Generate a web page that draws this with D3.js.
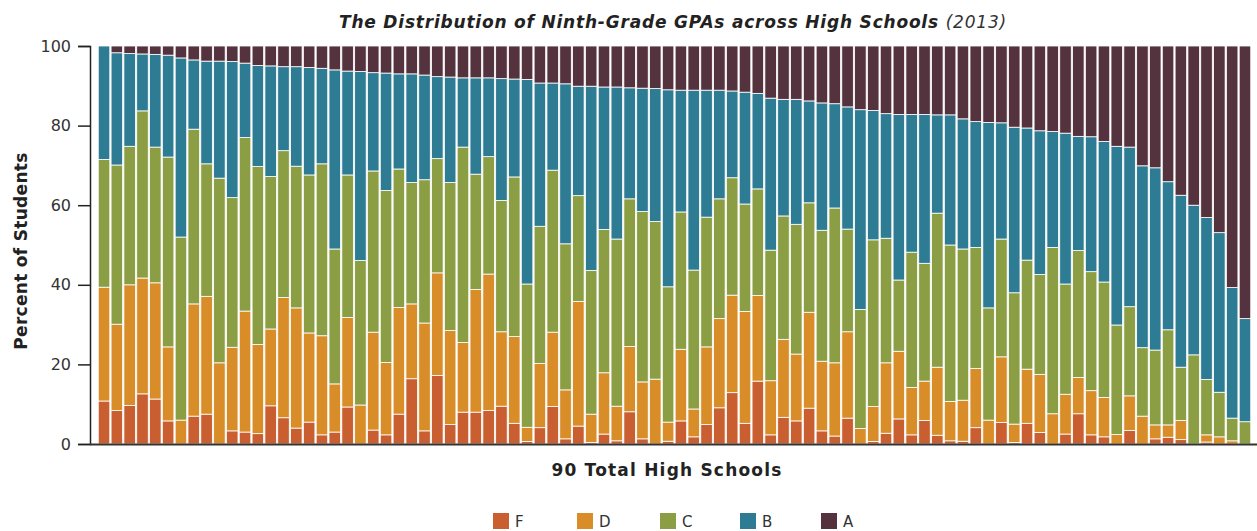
<!DOCTYPE html>
<html>
<head>
<meta charset="utf-8">
<script src="https://cdn.jsdelivr.net/npm/d3@7"></script>
<style>
  html, body { margin: 0; padding: 0; background: #fff; }
  svg { display: block; }
</style>
</head>
<body>
<svg id="chart" width="1257" height="531"></svg>
<script>
// Grade categories (stack order bottom -> top)
const grades = ["F", "D", "C", "B", "A"];
const gradeColors = ["#c95f30", "#d98d28", "#8b9e44", "#2d7c94", "#54323e"];

// Percent of students per school (90 schools), one array per grade
const pctF = [10.8,8.4,9.7,12.6,11.3,5.8,0,7.0,7.5,0,3.3,3.0,2.6,9.6,6.6,4.0,5.5,2.3,3.0,9.3,
  0,3.5,2.3,7.5,16.4,3.3,17.2,4.9,8.0,8.0,8.4,9.5,5.2,0.6,4.1,9.4,1.3,4.5,0.4,2.5,
  0.8,8.1,1.3,0,0.7,5.8,1.8,4.9,9.1,12.9,5.2,15.8,2.3,6.7,5.8,9.0,3.3,2.0,6.5,0,
  0.6,2.7,6.3,2.3,5.9,2.2,0.8,0.7,4.1,0,5.4,0.4,5.2,2.9,0,2.5,7.6,2.3,1.8,0,
  3.4,0,1.3,1.7,1.1,0,0.5,0,0,0];
const pctD = [28.6,21.7,30.3,29.1,29.2,18.6,6.0,28.2,29.6,20.4,21.0,30.4,22.4,19.3,30.2,30.2,22.4,24.9,12.1,22.5,
  9.8,24.6,18.2,26.8,18.8,27.1,25.8,23.6,17.5,30.8,34.3,18.7,21.8,3.6,16.1,18.7,12.3,31.3,7.1,15.4,
  8.7,16.4,14.3,16.3,4.8,18.0,7.0,19.5,22.4,24.5,28.1,21.5,13.6,19.6,16.8,24.1,17.5,18.4,21.7,3.9,
  8.8,17.7,17.0,11.9,9.9,17.1,9.9,10.3,14.9,6.0,16.5,4.6,13.6,14.6,7.6,10.0,9.1,11.1,9.9,2.4,
  8.7,7.0,3.5,3.1,4.8,0,1.8,1.8,0.8,0];
const pctC = [32.1,40.0,34.8,42.0,34.1,47.7,46.0,43.9,33.3,46.4,37.6,43.6,44.7,38.3,36.9,35.6,39.7,43.2,33.9,35.8,
  36.3,40.5,43.2,34.8,30.5,36.0,28.7,37.2,49.1,29.0,29.5,33.0,40.1,36.0,34.5,40.7,36.7,26.6,36.1,36.0,
  42.0,37.1,42.8,39.6,34.0,34.5,34.9,32.6,30.1,29.5,27.0,26.8,32.8,31.0,32.6,27.5,32.9,38.9,25.8,29.9,
  41.9,31.3,17.9,34.0,29.6,38.7,39.3,38.0,30.4,28.2,29.6,33.0,27.4,25.1,41.8,27.7,31.9,29.9,29.0,27.5,
  22.4,17.2,18.8,23.9,13.4,22.4,13.9,11.2,5.7,5.6];
const pctB = [28.5,28.2,23.3,14.3,23.3,25.6,45.0,17.4,25.8,29.4,34.2,18.7,25.4,27.8,21.1,25.0,27.0,24.0,45.0,26.1,
  47.5,24.7,29.5,23.9,27.3,26.3,20.6,26.5,17.4,24.2,19.8,30.6,24.6,51.4,36.0,21.9,40.2,27.5,46.3,35.8,
  38.2,27.9,31.0,33.4,49.5,30.6,45.2,31.9,27.3,21.8,28.1,24.0,38.2,29.3,31.4,25.6,32.0,26.2,30.7,50.2,
  32.5,31.3,41.6,34.6,37.4,24.7,32.7,32.7,31.6,46.6,29.2,41.6,33.2,36.1,29.1,37.9,28.7,33.9,35.3,44.9,
  40.1,45.7,45.8,37.2,43.2,37.6,40.7,40.1,32.8,25.9];
const pctA = [0,1.7,1.9,2.0,2.1,2.3,3.0,3.5,3.8,3.8,3.9,4.3,4.9,5.0,5.2,5.2,5.4,5.6,6.0,6.3,
  6.4,6.7,6.8,7.0,7.0,7.3,7.7,7.8,8.0,8.0,8.0,8.2,8.3,8.4,9.3,9.3,9.5,10.1,10.1,10.3,
  10.3,10.5,10.6,10.7,11.0,11.1,11.1,11.1,11.1,11.3,11.6,11.9,13.1,13.4,13.4,13.8,14.3,14.5,15.3,16.0,
  16.2,17.0,17.2,17.2,17.2,17.3,17.3,18.3,19.0,19.2,19.3,20.4,20.6,21.3,21.5,21.9,22.7,22.8,24.0,25.2,
  25.4,30.1,30.6,34.1,37.5,40.0,43.1,46.9,60.7,68.5];

const yTicks = [0, 20, 40, 60, 80, 100];
const chartTitle = "The Distribution of Ninth-Grade GPAs across High Schools";
const chartYear = "(2013)";
const xTitle = "90 Total High Schools";
const yTitle = "Percent of Students";

// Build table
const series = [pctF, pctD, pctC, pctB, pctA];
const schools = d3.range(pctF.length).map(i => {
  const row = { id: i };
  grades.forEach((g, k) => { row[g] = series[k][i]; });
  return row;
});

const svg = d3.select("#chart");
const axisX = 90, plotLeft = 98, plotRight = 1251, plotTop = 46, plotBottom = 444;

const x = d3.scaleBand().domain(schools.map(d => d.id)).range([plotLeft, plotRight]).paddingInner(0.1).paddingOuter(0.02);
const y = d3.scaleLinear().domain([0, 100]).range([plotBottom, plotTop]);
const color = d3.scaleOrdinal().domain(grades).range(gradeColors);

const stacked = d3.stack().keys(grades)(schools);

svg.append("g")
  .selectAll("g")
  .data(stacked)
  .join("g")
  .attr("fill", d => color(d.key))
  .selectAll("rect")
  .data(d => d.filter(s => s[1] - s[0] > 0))
  .join("rect")
  .attr("x", d => x(d.data.id))
  .attr("width", x.bandwidth())
  .attr("y", d => y(d[1]))
  .attr("height", d => Math.max(0, y(d[0]) - y(d[1])))
  .attr("stroke", "#ffffff")
  .attr("stroke-width", 0.8);

// y axis
const yAxis = svg.append("g")
  .attr("transform", `translate(${axisX},0)`)
  .call(d3.axisLeft(y).tickValues(yTicks).tickSize(12).tickSizeOuter(12).tickPadding(7));
yAxis.select(".domain").attr("stroke", "#222").attr("stroke-width", 1.5);
yAxis.selectAll(".tick line").attr("stroke", "#222").attr("stroke-width", 1.5);
yAxis.selectAll(".tick text")
  .style("font-family", "'DejaVu Sans', sans-serif")
  .style("font-size", "16px").style("font-weight", 400)
  .attr("fill", "#333");

// x baseline
svg.append("line")
  .attr("x1", axisX).attr("x2", 1257)
  .attr("y1", y(0) + 0.5).attr("y2", y(0) + 0.5)
  .attr("stroke", "#333").attr("stroke-width", 2);

// title
const t = svg.append("text")
  .attr("x", 673).attr("y", 28)
  .attr("text-anchor", "middle")
  .style("font-family", "'DejaVu Sans', sans-serif")
  .style("font-size", "17px").style("font-style", "italic")
  .style("letter-spacing", "0.8px").attr("fill", "#222");
t.append("tspan").style("font-weight", 700).text(chartTitle + " ");
t.append("tspan").style("font-weight", 400).attr("fill", "#333").text(chartYear);

// axis titles
svg.append("text")
  .attr("x", 667).attr("y", 476)
  .attr("text-anchor", "middle")
  .style("font-family", "'DejaVu Sans', sans-serif")
  .style("font-size", "17px").style("font-weight", 700)
  .style("letter-spacing", "1.2px").attr("fill", "#222")
  .text(xTitle);

svg.append("text")
  .attr("transform", `translate(27,251) rotate(-90)`)
  .attr("text-anchor", "middle")
  .style("font-family", "'DejaVu Sans', sans-serif")
  .style("font-size", "17px").style("font-weight", 700)
  .style("letter-spacing", "0.3px").attr("fill", "#222")
  .text(yTitle);

// legend
const legendX = [493, 577, 660, 740, 821];
const lg = svg.append("g").selectAll("g").data(grades).join("g")
  .attr("transform", (d, i) => `translate(${legendX[i]},513)`);
lg.append("rect").attr("width", 16).attr("height", 16).attr("fill", d => color(d));
lg.append("text").attr("x", 22).attr("y", 14)
  .style("font-family", "'DejaVu Sans', sans-serif")
  .style("font-size", "15px").style("font-weight", 400).attr("fill", "#333")
  .text(d => d);
</script>
</body>
</html>
